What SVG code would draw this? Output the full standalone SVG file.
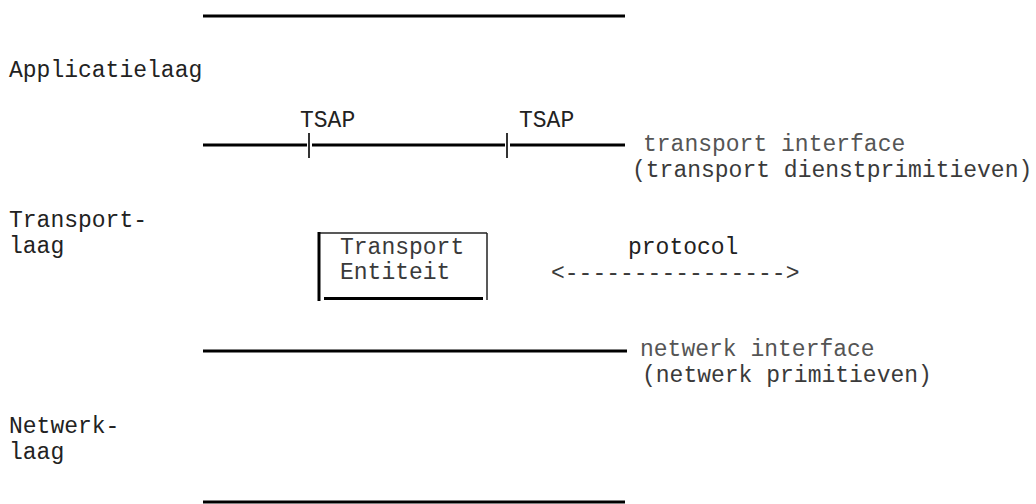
<svg xmlns="http://www.w3.org/2000/svg" width="1036" height="504" viewBox="0 0 1036 504">
<style>
text{font-family:"Liberation Mono","Courier New",monospace;font-size:23px;fill:#222}
.g{fill:#555}
.m{fill:#3a3a3a}
.bar{stroke:#000;stroke-width:3;fill:none}
.tick{stroke:#333;stroke-width:2;fill:none}
.thin{stroke:#222;stroke-width:1.5;fill:none}
</style>
<rect width="1036" height="504" fill="#fff"/>
<g id="layers">
<text x="9" y="77">Applicatielaag</text>
<text x="9" y="227">Transport-</text>
<text x="9" y="253">laag</text>
<text x="9" y="433">Netwerk-</text>
<text x="9" y="459">laag</text>
</g>
<g id="connectors">
<line class="bar" x1="203" y1="16" x2="625" y2="16"/>
<line class="bar" x1="203" y1="145" x2="307" y2="145"/>
<line class="bar" x1="312" y1="145" x2="505" y2="145"/>
<line class="bar" x1="510" y1="145" x2="625" y2="145"/>
<line class="bar" x1="203" y1="351" x2="627" y2="351"/>
<line class="bar" x1="203" y1="502" x2="625" y2="502"/>
</g>
<g id="tsap1">
<line class="tick" x1="309" y1="133" x2="309" y2="158"/>
<text x="300" y="127">TSAP</text>
</g>
<g id="tsap2">
<line class="tick" x1="507" y1="133" x2="507" y2="158"/>
<text x="519" y="127">TSAP</text>
</g>
<g id="transport-interface">
<text class="g" x="643" y="151">transport interface</text>
<text class="m" x="632" y="177">(transport dienstprimitieven)</text>
</g>
<g id="transport-entiteit">
<line class="thin" x1="319" y1="233" x2="487" y2="233"/>
<line class="thin" x1="487" y1="233" x2="487" y2="300"/>
<line class="bar" x1="319" y1="232" x2="319" y2="301"/>
<line class="bar" x1="324" y1="298.5" x2="483" y2="298.5"/>
<text class="m" x="340" y="254">Transport</text>
<text class="m" x="340" y="279">Entiteit</text>
</g>
<g id="protocol">
<text x="628" y="254">protocol</text>
<text class="m" x="551" y="280">&lt;----------------&gt;</text>
</g>
<g id="netwerk-interface">
<text class="g" x="640" y="356">netwerk interface</text>
<text class="m" x="642" y="382">(netwerk primitieven)</text>
</g>
</svg>
